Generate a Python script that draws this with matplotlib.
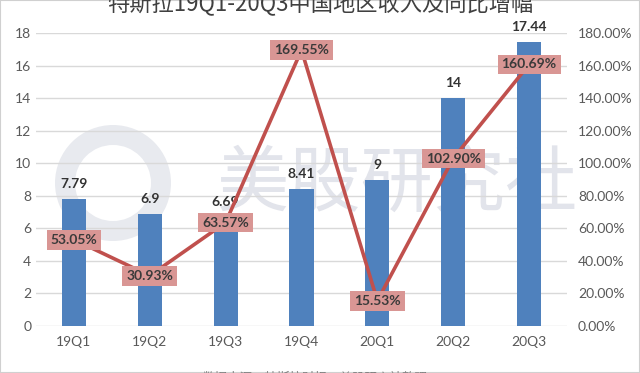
import matplotlib
matplotlib.use("Agg")
import matplotlib.pyplot as plt
from matplotlib.patches import Wedge, Rectangle
from matplotlib.ticker import FuncFormatter, MultipleLocator

plt.rcParams['font.family'] = ['Lato', 'Noto Sans CJK SC', 'DejaVu Sans']

quarters = ["19Q1", "19Q2", "19Q3", "19Q4", "20Q1", "20Q2", "20Q3"]
revenue = [7.79, 6.9, 6.69, 8.41, 9, 14, 17.44]
revenue_labels = ["7.79", "6.9", "6.69", "8.41", "9", "14", "17.44"]
growth = [53.05, 30.93, 63.57, 169.55, 15.53, 102.90, 160.69]
title = "特斯拉19Q1-20Q3中国地区收入及同比增幅"
caption = "数据来源：特斯拉财报，美股研究社整理"
watermark = "美股研究社"

bar_color = "#4f81bd"
line_color = "#c0504d"
box_color = "#d99694"
tick_color = "#595959"
grid_color = "#d9d9d9"

fig = plt.figure(figsize=(6.4, 3.73), dpi=100)
ax = fig.add_axes([36/640, 47/373, (567-36)/640, (326-33)/373])
ax.set_facecolor('none')
ax2 = ax.twinx()

# watermark
fig.patches.append(Wedge((1.13, 1.90), 0.58, 0, 360, width=0.2,
                         transform=fig.dpi_scale_trans, facecolor="#e8eaef",
                         edgecolor='none', zorder=-2))
fig.text(397/640, 1 - 185/373, watermark, fontsize=52, color="#e2e4eb",
         family=['Noto Sans CJK SC'], ha='center', va='center',
         fontweight='medium', zorder=-2)

x = list(range(len(quarters)))
bars = ax.bar(x, revenue, width=0.32, color=bar_color, zorder=2)
for xi, v, lab in zip(x, revenue, revenue_labels):
    ax.text(xi, v + 0.55, lab, ha='center', va='bottom', fontsize=10,
            fontweight='bold', color="#333333", zorder=3)

ax.set_ylim(0, 18)
ax.set_xlim(-0.5, len(quarters) - 0.5)
ax.yaxis.set_major_locator(MultipleLocator(2))
ax.grid(axis='y', color=grid_color, lw=1, zorder=0)
ax.set_axisbelow(True)
ax.set_xticks(x)
ax.set_xticklabels(quarters)
ax.tick_params(axis='both', length=0, colors=tick_color, labelsize=10)
ax.tick_params(axis='x', pad=7)
for s in ax.spines.values():
    s.set_visible(False)

ax2.plot(x, growth, color=line_color, lw=2.6, zorder=3, solid_joinstyle='miter')
for xi, g in zip(x, growth):
    ax2.text(xi, g, f"{g:.2f}%", ha='center', va='center', fontsize=10,
             fontweight='bold', color="#3a3a3a", zorder=4,
             bbox=dict(boxstyle='square,pad=0.28', facecolor=box_color,
                       edgecolor='none'))
ax2.set_ylim(0, 180)
ax2.yaxis.set_major_locator(MultipleLocator(20))
ax2.yaxis.set_major_formatter(FuncFormatter(lambda v, p: f"{v:.2f}%"))
ax2.tick_params(axis='y', length=0, colors=tick_color, labelsize=10, pad=8)
for s in ax2.spines.values():
    s.set_visible(False)

fig.text(0.5, 1 - 4/373, title, fontsize=16, color="#404040",
         family=['Noto Sans CJK SC'], ha='center', va='center')
fig.text(315/640, 1 - 378/373, caption, fontsize=9, color="#7f7f7f",
         family=['Noto Sans CJK SC'], ha='center', va='center')

fig.patches.append(Rectangle((0, 0), 1, 1, transform=fig.transFigure,
                             facecolor='none', edgecolor='#d0d0d0', lw=1.5))

fig.savefig("out.png", dpi=100)
